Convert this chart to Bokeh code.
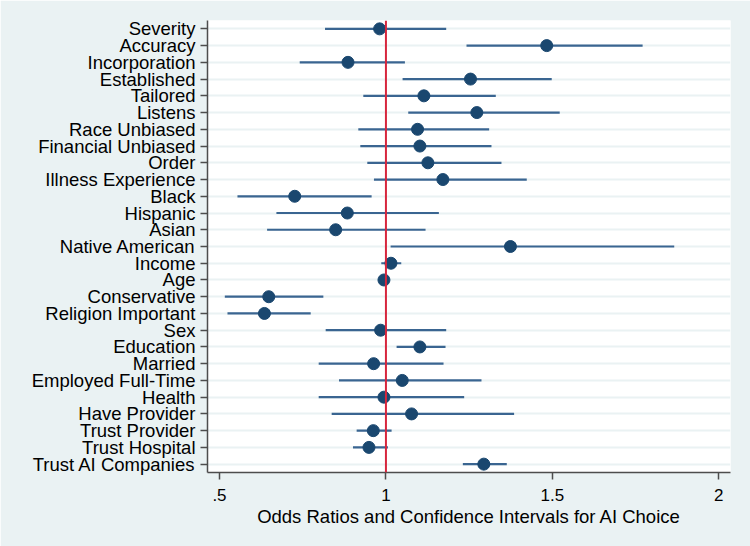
from bokeh.plotting import figure
from bokeh.models import ColumnDataSource, Span, FactorRange, Range1d, FixedTicker
from bokeh.embed import file_html
from bokeh.resources import INLINE

labels = ["Severity", "Accuracy", "Incorporation", "Established", "Tailored", "Listens",
          "Race Unbiased", "Financial Unbiased", "Order", "Illness Experience", "Black",
          "Hispanic", "Asian", "Native American", "Income", "Age", "Conservative",
          "Religion Important", "Sex", "Education", "Married", "Employed Full-Time",
          "Health", "Have Provider", "Trust Provider", "Trust Hospital", "Trust AI Companies"]
odds = [0.981, 1.483, 0.886, 1.254, 1.114, 1.273, 1.095, 1.102, 1.126, 1.171, 0.726,
        0.884, 0.849, 1.374, 1.015, 0.994, 0.648, 0.635, 0.984, 1.102, 0.963, 1.049,
        0.994, 1.077, 0.962, 0.949, 1.294]
ci_low = [0.817, 1.242, 0.741, 1.050, 0.932, 1.067, 0.917, 0.923, 0.944, 0.964, 0.554,
          0.671, 0.643, 1.014, 0.986, 0.990, 0.516, 0.524, 0.819, 1.032, 0.798, 0.859,
          0.798, 0.837, 0.912, 0.901, 1.231]
ci_high = [1.181, 1.771, 1.057, 1.498, 1.330, 1.522, 1.310, 1.317, 1.347, 1.423, 0.957,
           1.159, 1.119, 1.866, 1.046, 0.999, 0.812, 0.774, 1.181, 1.179, 1.173, 1.287,
           1.235, 1.385, 1.017, 1.006, 1.363]
x_ticks = [0.5, 1.0, 1.5, 2.0]
x_tick_labels = [".5", "1", "1.5", "2"]
x_title = "Odds Ratios and Confidence Intervals for AI Choice"

src = ColumnDataSource(dict(label=labels, odds=odds, lo=ci_low, hi=ci_high))

p = figure(y_range=FactorRange(factors=list(reversed(labels)), range_padding=0),
           x_range=Range1d(0.464, 2.035),
           frame_width=523, frame_height=452,
           output_backend="svg", toolbar_location=None)
p.min_border_left = 207
p.min_border_right = 20
p.min_border_top = 20
p.min_border_bottom = 74

p.border_fill_color = "#EAF2F3"
p.background_fill_color = "white"
p.outline_line_color = None

p.xgrid.grid_line_color = None
p.ygrid.grid_line_color = "#EAF2F3"
p.ygrid.grid_line_width = 2

p.segment(x0="lo", x1="hi", y0="label", y1="label", source=src,
          line_color="#3A6591", line_width=2.2)
p.scatter(x="odds", y="label", source=src, size=12,
          fill_color="#1A476F", line_color="#1A476F")

p.add_layout(Span(location=1.0, dimension="height", line_color="#D7263D", line_width=2))

font = "Liberation Sans"
p.xaxis.ticker = FixedTicker(ticks=x_ticks)
p.xaxis.major_label_overrides = {t: s for t, s in zip(x_ticks, x_tick_labels)}
p.xaxis.minor_tick_line_color = None
p.xaxis.axis_label = x_title
for ax in [p.xaxis[0], p.yaxis[0]]:
    ax.axis_line_color = "#4d4d4d"
    ax.axis_line_width = 1.5
    ax.major_tick_line_color = "#4d4d4d"
    ax.major_tick_line_width = 1.5
    ax.major_tick_out = 7
    ax.major_tick_in = 0
    ax.major_label_text_font = font
    ax.major_label_text_color = "black"
    ax.axis_label_text_font = font
    ax.axis_label_text_font_style = "normal"
    ax.axis_label_text_color = "black"
p.xaxis.major_label_text_font_size = "17px"
p.xaxis.major_label_standoff = 9
p.xaxis.axis_label_text_font_size = "18.5px"
p.xaxis.axis_label_standoff = 2
p.yaxis.major_label_text_font_size = "18.5px"
p.yaxis.major_label_standoff = 5

open("out.html", "w").write(file_html(p, INLINE))
